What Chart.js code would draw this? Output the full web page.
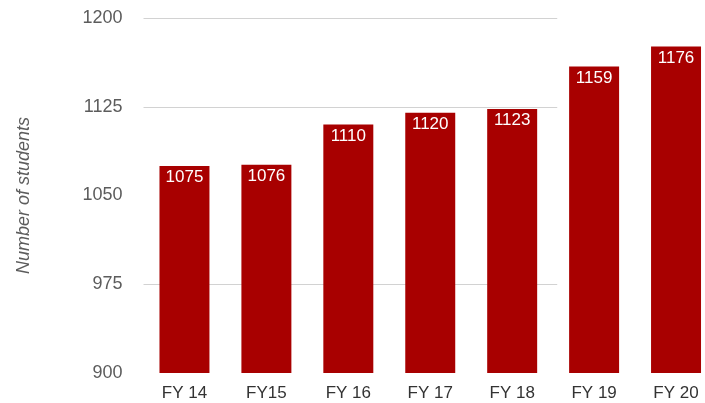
<!DOCTYPE html>
<html>
<head>
<meta charset="utf-8">
<script src="https://cdn.jsdelivr.net/npm/chart.js@4/dist/chart.umd.min.js"></script>
<style>
  html, body { margin: 0; padding: 0; background: #fff; overflow: hidden; }
  #wrap { position: relative; width: 717px; height: 403px; }
</style>
</head>
<body>
<div id="wrap"><canvas id="chart"></canvas></div>
<script>
// Enrollment by fiscal year
const categories = ['FY 14', 'FY15', 'FY 16', 'FY 17', 'FY 18', 'FY 19', 'FY 20'];
const students = [1075, 1076, 1110, 1120, 1123, 1159, 1176];
const yTicks = [900, 975, 1050, 1125, 1200];
const gridValues = [975, 1125, 1200];

const FONT = '"Liberation Sans", Arial, sans-serif';

// Horizontal guide lines behind the bars, running from the axis to the gap after FY 18
const guideLines = {
  id: 'guideLines',
  beforeDatasetsDraw(chart) {
    const { ctx, chartArea, scales } = chart;
    const xEnd = scales.x.getPixelForValue(4.55);
    ctx.save();
    ctx.strokeStyle = '#d2d2d2';
    ctx.lineWidth = 1;
    gridValues.forEach(v => {
      const y = Math.round(scales.y.getPixelForValue(v)) + 0.5;
      ctx.beginPath();
      ctx.moveTo(chartArea.left, y);
      ctx.lineTo(xEnd, y);
      ctx.stroke();
    });
    ctx.restore();
  }
};

// Writes each bar's value just inside its top edge
const valueLabels = {
  id: 'valueLabels',
  afterDatasetsDraw(chart) {
    const ctx = chart.ctx;
    const meta = chart.getDatasetMeta(0);
    ctx.save();
    ctx.fillStyle = '#fff';
    ctx.font = '17px ' + FONT;
    ctx.textAlign = 'center';
    ctx.textBaseline = 'top';
    meta.data.forEach((bar, i) => {
      ctx.fillText(String(students[i]), bar.x, bar.y + 3);
    });
    ctx.restore();
  }
};

new Chart(document.getElementById('chart'), {
  type: 'bar',
  data: {
    labels: categories,
    datasets: [{
      data: students,
      backgroundColor: '#a80000',
      borderWidth: 0,
      categoryPercentage: 1,
      barPercentage: 0.61
    }]
  },
  options: {
    responsive: true,
    maintainAspectRatio: false,
    animation: false,
    layout: { padding: { top: 18, left: 10, right: 0, bottom: 0 } },
    plugins: { legend: { display: false }, tooltip: { enabled: false } },
    scales: {
      x: {
        grid: { display: false, drawTicks: false },
        border: { display: false },
        ticks: { color: '#333', font: { family: FONT, size: 17 }, padding: 10, maxRotation: 0 },
        afterFit(scale) {
          scale.height = 30;
          scale.paddingLeft = 0;
          scale.paddingRight = 0;
        }
      },
      y: {
        min: 900,
        max: 1200,
        afterBuildTicks(scale) { scale.ticks = yTicks.map(v => ({ value: v })); },
        grid: { display: false, drawTicks: false },
        border: { display: false },
        ticks: {
          color: '#5c5c5c',
          font: { family: FONT, size: 18 },
          padding: 21,
          callback: v => String(v)
        },
        title: {
          display: true,
          text: 'Number of students',
          color: '#5c5c5c',
          font: { family: FONT, size: 18, style: 'italic' },
          padding: { top: 3, bottom: 0 }
        },
        afterFit(scale) {
          scale.width = 133.5;
          scale.paddingTop = 0;
          scale.paddingBottom = 0;
        }
      }
    }
  },
  plugins: [guideLines, valueLabels]
});
</script>
</body>
</html>
